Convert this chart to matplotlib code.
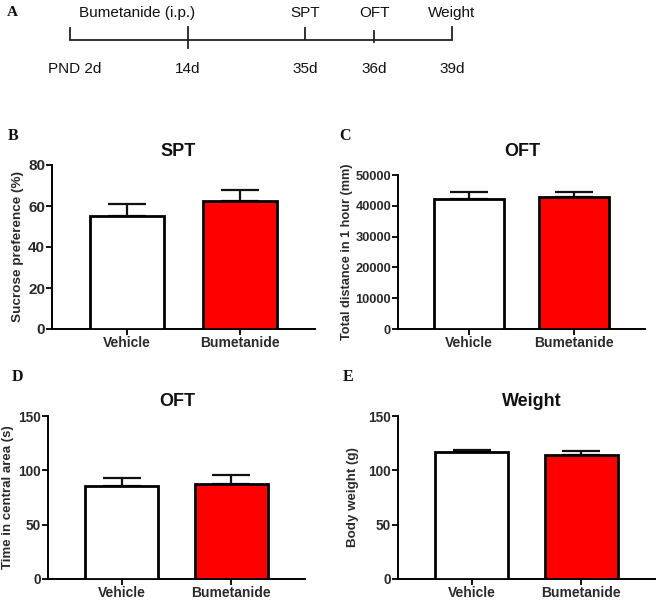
import numpy as np
import matplotlib
matplotlib.use("Agg")
import matplotlib.pyplot as plt

# ---- data ----
groups = ["Vehicle", "Bumetanide"]
bar_colors = ["white", "#ff0000"]

timeline_labels_top = ["", "Bumetanide (i.p.)", "SPT", "OFT", "Weight"]
timeline_labels_bottom = ["PND 2d", "14d", "35d", "36d", "39d"]

spt_mean = [55, 62.5]
spt_sem = [6, 5.5]

oft_dist_mean = [42300, 42700]
oft_dist_sem = [2200, 1900]

oft_center_mean = [86, 87]
oft_center_sem = [7, 8.5]

weight_mean = [116.5, 114.5]
weight_sem = [2.5, 3.0]

W, H = 660, 602
plt.rcParams['font.family'] = ['Liberation Sans', 'DejaVu Sans']

fig = plt.figure(figsize=(W / 100, H / 100), dpi=100)


def px_rect(x0, y0, x1, y1):
    # pixel box (top-left origin) -> figure fraction rect
    return [x0 / W, 1 - y1 / H, (x1 - x0) / W, (y1 - y0) / H]


def fig_text(x, y, s, **kw):
    fig.text(x / W, 1 - y / H, s, **kw)


# ---- panel A: timeline ----
axA = fig.add_axes([0, 0, 1, 1])
axA.set_xlim(0, W)
axA.set_ylim(H, 0)
axA.axis("off")
tl_x = [70, 188, 305, 374, 452]
tl_tick = [(28, 39), (27, 48), (28, 39), (31, 42), (27, 39)]
axA.plot([tl_x[0], tl_x[-1]], [39.5, 39.5], color="#222222", lw=1.3)
for x, (y0, y1) in zip(tl_x, tl_tick):
    axA.plot([x, x], [y0, y1], color="#222222", lw=1.3)
top_x = [None, 137, 305, 374, 452]
for x, s in zip(top_x, timeline_labels_top):
    if s:
        axA.text(x, 13, s, ha="center", va="center", fontsize=11, color="#111111")
bot_x = [75, 188, 305, 374, 452]
for x, s in zip(bot_x, timeline_labels_bottom):
    axA.text(x, 69, s, ha="center", va="center", fontsize=11, color="#111111")
axA.text(12, 13, "A", ha="center", va="center", fontsize=11, fontweight="bold",
         family="Liberation Serif", color="#111111")


def bar_panel(rect, means, sems, ylim, yticks, ylabel, tick_fs, ylabel_fs, labelpad):
    ax = fig.add_axes(px_rect(*rect))
    x = np.arange(len(groups))
    ax.bar(x, means, width=0.66, color=bar_colors, edgecolor="black",
           linewidth=2.0, zorder=3)
    ax.errorbar(x, means, yerr=[np.zeros(len(sems)), sems], fmt="none",
                ecolor="#111111", elinewidth=1.6, capsize=13.5, capthick=1.6, zorder=2)
    ax.set_xlim(-0.67, 1.67)
    ax.set_ylim(*ylim)
    ax.set_yticks(yticks)
    ax.set_xticks(x)
    ax.set_xticklabels(groups, fontsize=10, fontweight="bold", color="#2a2a2a")
    ax.tick_params(axis="y", labelsize=tick_fs, labelcolor="#2a2a2a", length=4,
                   width=1.3, pad=1)
    for lab in ax.get_yticklabels():
        lab.set_fontweight("bold")
    ax.tick_params(axis="x", length=4, width=1.3, pad=1)
    ax.spines["top"].set_visible(False)
    ax.spines["right"].set_visible(False)
    ax.spines["left"].set_linewidth(1.4)
    ax.spines["bottom"].set_linewidth(1.4)
    ax.set_ylabel(ylabel, fontsize=ylabel_fs, fontweight="bold", color="#2a2a2a",
                  labelpad=labelpad)
    return ax


bar_panel((52, 165, 315, 329), spt_mean, spt_sem, (0, 80), [0, 20, 40, 60, 80],
          "Sucrose preference (%)", 11, 9.7, 3)
bar_panel((398, 175, 645, 329), oft_dist_mean, oft_dist_sem, (0, 50000),
          [0, 10000, 20000, 30000, 40000, 50000],
          "Total distance in 1 hour (mm)", 9.3, 9.2, 2)
bar_panel((48, 416, 305, 579), oft_center_mean, oft_center_sem, (0, 150),
          [0, 50, 100, 150], "Time in central area (s)", 9.8, 9.5, 3)
bar_panel((398, 416, 655, 579), weight_mean, weight_sem, (0, 150),
          [0, 50, 100, 150], "Body weight (g)", 9.8, 9.6, 7)

# titles and panel letters
for x, y, s in [(178, 151, "SPT"), (522, 151, "OFT"), (177, 402, "OFT"), (532, 402, "Weight")]:
    fig_text(x, y, s, ha="center", va="center", fontsize=13, fontweight="bold", color="#111111")
for x, y, s in [(13, 136, "B"), (345, 136, "C"), (17, 377, "D"), (348, 377, "E")]:
    fig_text(x, y, s, ha="center", va="center", fontsize=11.5, fontweight="bold",
             family="Liberation Serif", color="#111111")

fig.savefig("out.png", dpi=100)
